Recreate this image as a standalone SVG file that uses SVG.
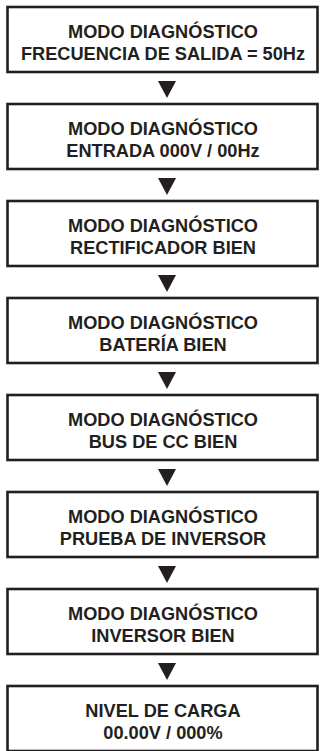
<svg xmlns="http://www.w3.org/2000/svg" width="320" height="751" viewBox="0 0 320 751">
<style>
.box{fill:#fff;stroke:#231f20;stroke-width:2.6}
.t{font-family:"Liberation Sans",Arial,sans-serif;font-weight:bold;font-size:18.2px;fill:#231f20;text-anchor:middle}
.arr{fill:#231f20}
</style>
<rect width="320" height="751" fill="#fff"/>
<g id="connectors">
<polygon class="arr" points="158,81 176,81 167,98"/>
<polygon class="arr" points="158,178 176,178 167,195"/>
<polygon class="arr" points="158,275 176,275 167,292"/>
<polygon class="arr" points="158,372 176,372 167,389"/>
<polygon class="arr" points="158,469 176,469 167,486"/>
<polygon class="arr" points="158,566 176,566 167,583"/>
<polygon class="arr" points="158,663 176,663 167,680"/>
</g>
<g id="n1"><rect class="box" x="7.5" y="7" width="310" height="65"/><text class="t" x="163" y="38">MODO DIAGNÓSTICO</text><text class="t" x="163" y="60">FRECUENCIA DE SALIDA = 50Hz</text></g>
<g id="n2"><rect class="box" x="7.5" y="104" width="310" height="65"/><text class="t" x="163" y="135">MODO DIAGNÓSTICO</text><text class="t" x="163" y="157">ENTRADA 000V / 00Hz</text></g>
<g id="n3"><rect class="box" x="7.5" y="201" width="310" height="65"/><text class="t" x="163" y="232">MODO DIAGNÓSTICO</text><text class="t" x="163" y="254">RECTIFICADOR BIEN</text></g>
<g id="n4"><rect class="box" x="7.5" y="298" width="310" height="65"/><text class="t" x="163" y="329">MODO DIAGNÓSTICO</text><text class="t" x="163" y="351">BATERÍA BIEN</text></g>
<g id="n5"><rect class="box" x="7.5" y="395" width="310" height="65"/><text class="t" x="163" y="426">MODO DIAGNÓSTICO</text><text class="t" x="163" y="448">BUS DE CC BIEN</text></g>
<g id="n6"><rect class="box" x="7.5" y="492" width="310" height="65"/><text class="t" x="163" y="523">MODO DIAGNÓSTICO</text><text class="t" x="163" y="545">PRUEBA DE INVERSOR</text></g>
<g id="n7"><rect class="box" x="7.5" y="589" width="310" height="65"/><text class="t" x="163" y="620">MODO DIAGNÓSTICO</text><text class="t" x="163" y="642">INVERSOR BIEN</text></g>
<g id="n8"><rect class="box" x="7.5" y="686" width="310" height="65"/><text class="t" x="163" y="717">NIVEL DE CARGA</text><text class="t" x="163" y="739">00.00V / 000%</text></g>
</svg>
